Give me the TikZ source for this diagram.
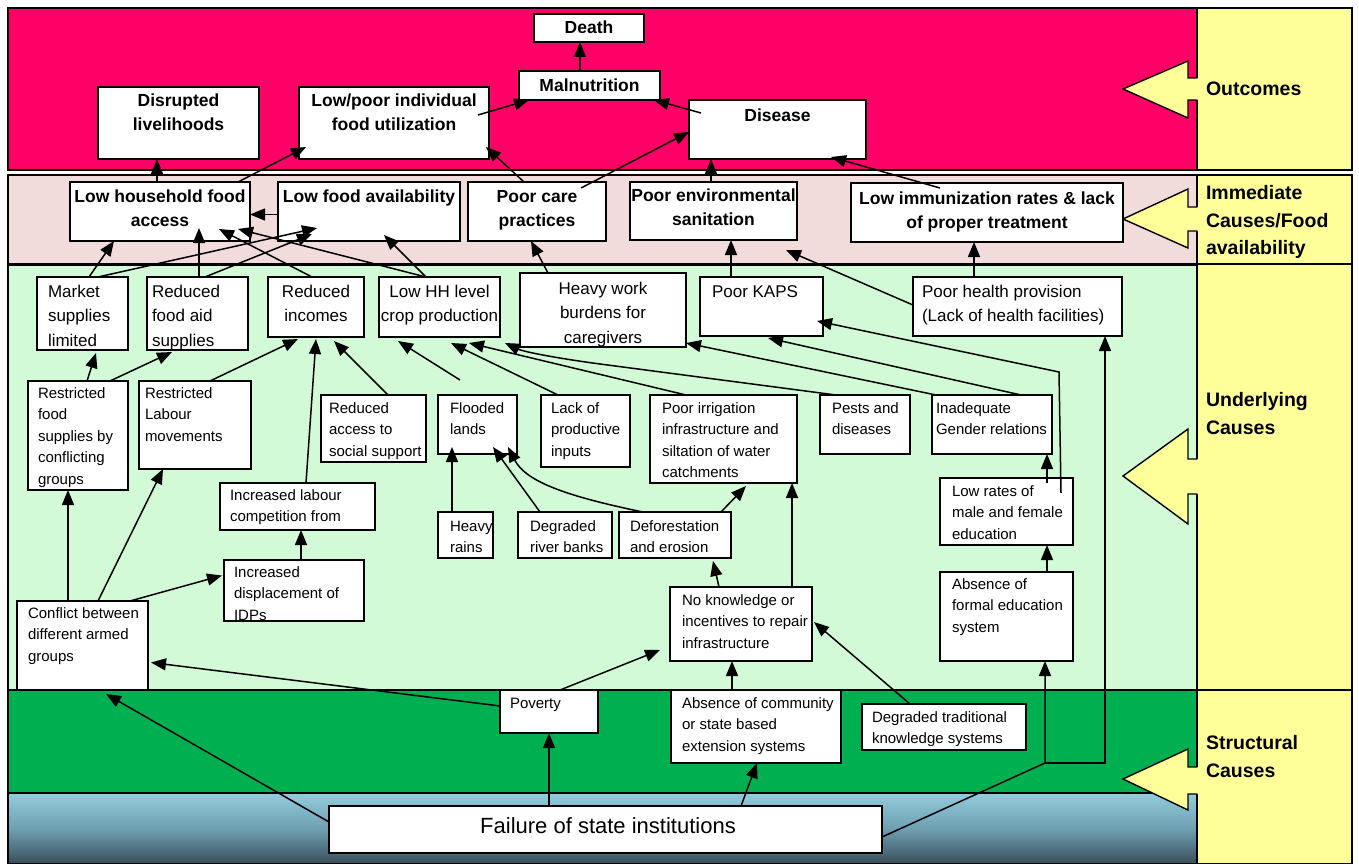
\documentclass[tikz,border=0pt]{standalone}
\usepackage{fontspec}
\setmainfont{Liberation Sans}
\usetikzlibrary{arrows.meta,calc}
\definecolor{magband}{RGB}{255,0,102}
\definecolor{immband}{RGB}{242,220,219}
\definecolor{undband}{RGB}{210,250,214}
\definecolor{strband}{RGB}{0,176,80}
\definecolor{panelyel}{RGB}{255,255,153}
\definecolor{blueTop}{RGB}{146,205,220}
\definecolor{blueMid}{RGB}{110,160,178}
\definecolor{blueBot}{RGB}{58,78,90}
\newcommand{\fsz}[2]{\fontsize{#1}{#2}\selectfont}
\newcommand{\TL}[1]{\parbox[t]{220pt}{\raggedright\strut#1}}
\newcommand{\TC}[1]{\parbox[t]{320pt}{\centering\strut#1}}
\tikzset{
  boxst/.style={draw=black, line width=1.8pt, fill=white, inner sep=0pt, outer sep=0pt},
  bandline/.style={draw=black, line width=1.4pt},
  arr/.style={line width=1.5pt, -{Triangle[length=15pt,width=12pt]}},
  ta/.style={inner sep=0pt, outer sep=0pt, anchor=north west, yshift=9.68pt, font=\fsz{15}{21.5}},
  tb/.style={inner sep=0pt, outer sep=0pt, anchor=north west, yshift=11.06pt, font=\fsz{17}{24.5}},
  tbc/.style={inner sep=0pt, outer sep=0pt, anchor=north, yshift=11.06pt, font=\fsz{17}{24.5}},
  tbold/.style={inner sep=0pt, outer sep=0pt, anchor=north, yshift=10.88pt, font=\bfseries\fsz{17.5}{24.5}},
  tlab/.style={inner sep=0pt, outer sep=0pt, anchor=north west, yshift=12.27pt, font=\bfseries\fsz{19.5}{27.5}},
  tfail/.style={inner sep=0pt, outer sep=0pt, anchor=north, yshift=10.32pt, font=\fsz{22}{26}}
}
\newcommand{\bx}[5]{\node[boxst, minimum width={(#4)-(#2)}, minimum height={(#5)-(#3)}] (#1) at ({((#2)+(#4))/2},{((#3)+(#5))/2}) {};}
\newcommand{\barrowshape}[5]{%
  \fill[panelyel] (1199,#4) -- (1188,#4) -- (1188,#2) -- (1123,#1) -- (1188,#3) -- (1188,#5) -- (1199,#5) -- cycle;
  \draw[bandline] (1197.3,#4) -- (1188,#4) -- (1188,#2) -- (1123,#1) -- (1188,#3) -- (1188,#5) -- (1197.3,#5);}
\begin{document}
\begin{tikzpicture}[x=1pt,y=-1pt]
\useasboundingbox (0,0) rectangle (1359,864);
% bands
\fill[magband] (8,8) rectangle (1197,170);
\fill[immband] (8,175) rectangle (1197,264);
\fill[undband] (8,264) rectangle (1197,690);
\fill[strband] (8,690) rectangle (1197,793);
\shade[top color=blueTop, bottom color=blueBot, middle color=blueMid] (8,793) rectangle (1197,864);
\draw[bandline] (8,8) rectangle (1197,170);
\draw[bandline] (8,175) rectangle (1197,264);
\draw[bandline] (8,264) rectangle (1197,690);
\draw[bandline] (8,690) rectangle (1197,793);
\draw[bandline] (8,793) rectangle (1197,864);
\draw[line width=3pt] (8,264) -- (1197,264);
% side panels
\draw[bandline, fill=panelyel] (1197,8) rectangle (1352,170);
\draw[bandline, fill=panelyel] (1197,175) rectangle (1352,264);
\draw[bandline, fill=panelyel] (1197,264) rectangle (1352,690);
\draw[bandline, fill=panelyel] (1197,690) rectangle (1352,864);
\barrowshape{89}{61}{118}{78}{100}
\barrowshape{219}{189}{248}{207}{231}
\barrowshape{476}{429}{524}{459}{494}
\barrowshape{779}{749}{810}{767}{794}
\node[tlab] (lab1) at (1206,89) {\TL{Outcomes}};
\node[tlab] (lab2) at (1206,193) {\TL{Immediate\\Causes/Food\\availability}};
\node[tlab] (lab3) at (1206,400) {\TL{Underlying\\Causes}};
\node[tlab] (lab4) at (1206,743) {\TL{Structural\\Causes}};
% boxes
\bx{death}{534}{14}{644}{42}
\bx{maln}{519}{71}{660}{100}
\bx{disr}{98}{87}{259}{159}
\bx{util}{299}{87}{489}{159}
\bx{dis}{689}{100}{866}{159}
\bx{hhacc}{70}{182}{250}{241}
\bx{avail}{278}{182}{460}{241}
\bx{care}{468}{182}{606}{241}
\bx{sanit}{630}{182}{797}{240}
\bx{immun}{851}{183}{1123}{242}
\bx{mkt}{37}{277}{128}{350}
\bx{aid}{147}{277}{248}{350}
\bx{inc}{268}{277}{364}{337}
\bx{crop}{379}{277}{500}{337}
\bx{heavy}{520}{273}{686}{347}
\bx{kaps}{700}{277}{823}{336}
\bx{health}{913}{277}{1122}{336}
\bx{rfood}{28}{381}{128}{490}
\bx{rlab}{139}{381}{251}{469}
\bx{rsoc}{321}{395}{426}{462}
\bx{flood}{438}{395}{517}{454}
\bx{lack}{541}{395}{630}{467}
\bx{irrig}{650}{395}{797}{483}
\bx{pests}{820}{395}{910}{454}
\bx{gender}{932}{395}{1052}{454}
\bx{lcomp}{220}{483}{375}{530}
\bx{rains}{438}{512}{493}{558}
\bx{banks}{518}{512}{612}{558}
\bx{defor}{619}{512}{731}{558}
\bx{lowed}{940}{478}{1073}{545}
\bx{idp}{224}{560}{364}{621}
\bx{noknow}{670}{587}{812}{661}
\bx{formal}{940}{572}{1073}{661}
\bx{confl}{17}{601}{148}{690}
\bx{pov}{500}{690}{598}{733}
\bx{comm}{671}{690}{841}{763}
\bx{trad}{862}{704}{1026}{750}
\bx{fail}{329}{806}{882}{853}
% texts
\node[tbold] (death-t) at (589,27) {\TC{Death}};
\node[tbold] (maln-t) at (589.5,85) {\TC{Malnutrition}};
\node[tbold] (disr-t) at (178.5,100) {\TC{Disrupted\\livelihoods}};
\node[tbold] (util-t) at (394,100) {\TC{Low/poor individual\\food utilization}};
\node[tbold] (dis-t) at (777.5,115) {\TC{Disease}};
\node[tbold] (hhacc-t) at (160,196) {\TC{Low household food\\access}};
\node[tbold] (avail-t) at (369,196) {\TC{Low food availability}};
\node[tbold] (care-t) at (537,196) {\TC{Poor care\\practices}};
\node[tbold] (sanit-t) at (713.5,195) {\TC{Poor environmental\\sanitation}};
\node[tbold] (immun-t) at (987,198) {\TC{Low immunization rates \& lack\\of proper treatment}};
\node[tb] (mkt-t) at (48,291) {\TL{Market\\supplies\\limited}};
\node[tb] (aid-t) at (152,291) {\TL{Reduced\\food aid\\supplies}};
\node[tbc] (inc-t) at (316,291) {\TC{Reduced\\incomes}};
\node[tbc] (crop-t) at (439.5,291) {\TC{Low HH level\\crop production}};
\node[tbc] (heavy-t) at (603,288) {\TC{Heavy work\\burdens for\\caregivers}};
\node[tb] (kaps-t) at (712,291) {\TL{Poor KAPS}};
\node[tb] (health-t) at (922,291) {\TL{Poor health provision\\(Lack of health facilities)}};
\node[ta] (rfood-t) at (38,393) {\TL{Restricted\\food\\supplies by\\conflicting\\groups}};
\node[ta] (rlab-t) at (145,393) {\TL{Restricted\\Labour\\movements}};
\node[ta] (rsoc-t) at (329,408) {\TL{Reduced\\access to\\social support}};
\node[ta] (flood-t) at (450,408) {\TL{Flooded\\lands}};
\node[ta] (lack-t) at (551,408) {\TL{Lack of\\productive\\inputs}};
\node[ta] (irrig-t) at (662,408) {\TL{Poor irrigation\\infrastructure and\\siltation of water\\catchments}};
\node[ta] (pests-t) at (832,408) {\TL{Pests and\\diseases}};
\node[ta] (gender-t) at (936,408) {\TL{Inadequate\\Gender relations}};
\node[ta] (lcomp-t) at (230,495) {\TL{Increased labour\\competition from}};
\node[ta] (rains-t) at (450,526) {\TL{Heavy\\rains}};
\node[ta] (banks-t) at (530,526) {\TL{Degraded\\river banks}};
\node[ta] (defor-t) at (630,526) {\TL{Deforestation\\and erosion}};
\node[ta] (lowed-t) at (952,491) {\TL{Low rates of\\male and female\\education}};
\node[ta] (idp-t) at (234,572) {\TL{Increased\\displacement of\\IDPs}};
\draw[line width=1.8pt] (idp.south west) -- (idp.south east);
\node[ta] (noknow-t) at (682,600) {\TL{No knowledge or\\incentives to repair\\infrastructure}};
\node[ta] (formal-t) at (952,584) {\TL{Absence of\\formal education\\system}};
\node[ta] (confl-t) at (28,613) {\TL{Conflict between\\different armed\\groups}};
\node[ta] (pov-t) at (510,703) {\TL{Poverty}};
\node[ta] (comm-t) at (682,703) {\TL{Absence of community\\or state based\\extension systems}};
\node[ta] (trad-t) at (872,717) {\TL{Degraded traditional\\knowledge systems}};
\node[tfail] (fail-t) at (608,826) {\TC{Failure of state institutions}};
% connectors: outcomes
\draw[arr] ($(maln.north west)+(61,0)$) -- ($(death.south west)+(46,0)$);
\draw[arr] ($(util.north west)+(179,28)$) -- ($(maln.south west)+(10,0)$);
\draw[arr] ($(dis.north west)+(12,13)$) -- ($(maln.south east)+(-6,0)$);
\draw[arr] ($(hhacc.north west)+(87,0)$) -- ($(disr.south west)+(59,0)$);
\draw[arr] ($(hhacc.north east)+(-12,0)$) -- ($(util.south west)+(7,-12)$);
\draw[arr] ($(care.north west)+(56,0)$) -- ($(util.south east)+(-3,-12)$);
\draw[arr] ($(care.north west)+(113,6)$) -- ($(dis.north west)+(0,32)$);
\draw[arr] ($(sanit.north west)+(81,0)$) -- ($(dis.south west)+(22,0)$);
\draw[arr] ($(immun.north west)+(89,5)$) -- ($(dis.south east)+(-35,-2)$);
% immediate
\draw[arr] ($(avail.west)+(0,3)$) -- ($(hhacc.east)+(0,3)$);
\draw[arr] ($(mkt.north west)+(52,0)$) -- ($(hhacc.south west)+(44,0)$);
\draw[arr] ($(mkt.north west)+(61,0)$) -- ($(avail.south west)+(39,-13)$);
\draw[arr] ($(aid.north west)+(52,0)$) -- ($(hhacc.south west)+(129,-13)$);
\draw[arr] ($(aid.north west)+(58,0)$) -- ($(avail.south west)+(34,-7)$);
\draw[arr] ($(inc.north west)+(44,0)$) -- ($(hhacc.south west)+(149,-12)$);
\draw[arr] ($(crop.north west)+(47,0)$) -- ($(hhacc.south west)+(168,-12)$);
\draw[arr] ($(crop.north west)+(47,0)$) -- ($(avail.south west)+(106,-6)$);
\draw[arr] ($(heavy.north west)+(28,0)$) -- ($(care.south west)+(63,0)$);
\draw[arr] ($(kaps.north west)+(31,0)$) -- ($(sanit.south west)+(101,0)$);
\draw[arr] ($(health.north west)+(61,0)$) -- ($(immun.south west)+(123,0)$);
\draw[arr] ($(health.north west)+(0,28)$) -- ($(sanit.south east)+(-11,10)$);
% underlying
\draw[arr] ($(rfood.north west)+(59,0)$) -- ($(mkt.south west)+(59,3)$);
\draw[arr] ($(rfood.north west)+(82,0)$) -- ($(aid.south west)+(25,2)$);
\draw[arr] ($(rlab.north west)+(71,0)$) -- ($(inc.south west)+(30,2)$);
\draw[arr] ($(lcomp.north west)+(86,0)$) -- ($(inc.south west)+(48,2)$);
\draw[arr] ($(rsoc.north west)+(67,0)$) -- ($(inc.south west)+(66,4)$);
\coordinate (freeA) at (460,380);
\draw[arr] (freeA) -- ($(crop.south west)+(19,4)$);
\draw[arr] ($(lack.north west)+(17,0)$) -- ($(crop.south west)+(72,6)$);
\draw[arr] ($(irrig.north west)+(36,0)$) -- ($(crop.south west)+(90,6)$);
\coordinate (bendP) at (600,364);
\draw[arr] ($(pests.north west)+(16,0)$) -- (bendP) .. controls (548,357) and (522,351) .. ($(crop.south east)+(5,6)$);
\draw[arr] ($(gender.north west)+(4,0)$) -- ($(heavy.south east)+(0,-4)$);
\draw[arr] ($(gender.north west)+(89,0)$) -- ($(kaps.south west)+(68,2)$);
\draw[arr] ($(lowed.north west)+(121,15)$) -- ++(-2,-121) -- ($(kaps.south east)+(-6,-15)$);
\draw[arr] ($(rains.north west)+(14,0)$) -- ($(flood.south west)+(14,-7)$);
\draw[arr] ($(banks.north west)+(22,0)$) -- ($(flood.south west)+(55,-7)$);
\draw[arr] ($(defor.north west)+(24,0)$) .. controls (560,495) and (525,480) .. ($(flood.south west)+(70,-7)$);
\draw[arr] ($(defor.north west)+(102,0)$) -- ($(irrig.south west)+(96,3)$);
\draw[arr] ($(noknow.north west)+(122,0)$) -- ($(irrig.south west)+(142,0)$);
\draw[arr] ($(noknow.north west)+(49,0)$) -- ($(defor.south west)+(94,3)$);
\draw[arr] ($(comm.north west)+(61,0)$) -- ($(noknow.south west)+(62,0)$);
\draw[arr] ($(trad.north west)+(48,0)$) -- ($(noknow.east)+(2,-2)$);
\draw[arr] ($(pov.north west)+(60,0)$) -- ($(noknow.south west)+(-10,-11)$);
\draw[arr] ($(pov.north west)+(0,16)$) -- ($(confl.east)+(3,17)$);
\draw[arr] ($(confl.north west)+(51,0)$) -- ($(rfood.south west)+(40,0)$);
\draw[arr] ($(confl.north west)+(81,0)$) -- ($(rlab.south west)+(24,0)$);
\draw[arr] ($(confl.north west)+(113,0)$) -- ($(idp.west)+(-2,-15)$);
\draw[arr] ($(idp.north west)+(77,0)$) -- ($(lcomp.south west)+(81,0)$);
\draw[arr] ($(formal.north west)+(107,0)$) -- ($(lowed.south west)+(107,0)$);
\draw[arr] ($(lowed.north west)+(107,5)$) -- ($(gender.south west)+(115,0)$);
% structural
\draw[arr] ($(fail.north west)+(0,16)$) -- ($(confl.south west)+(89,4)$);
\draw[arr] ($(fail.north west)+(220,0)$) -- ($(pov.south west)+(49,0)$);
\draw[arr] ($(fail.north west)+(412,0)$) -- ($(comm.south west)+(86,0)$);
\coordinate (J) at (1045,763);
\coordinate (K) at (1105,763);
\draw[arr] ($(fail.south east)+(0,-16)$) -- (J) -- (J |- formal.south);
\draw[arr] (J) -- (K) -- (K |- health.south);
\end{tikzpicture}
\end{document}
